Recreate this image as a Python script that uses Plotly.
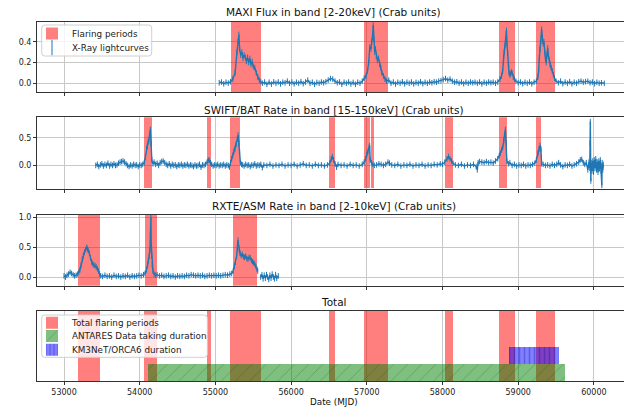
import plotly.graph_objects as go

# ---------------- data ----------------
maxi_mjd = [55050, 55080, 55110, 55140, 55170, 55200, 55230, 55260, 55285, 55300, 55310, 55320, 55335, 55350,
            55365, 55380, 55395, 55410, 55425, 55440, 55455, 55470, 55485, 55500, 55520, 55540, 55560, 55580,
            55600, 55620, 55650, 55680, 55710, 55740, 55770, 55800, 55830, 55860, 55890, 55920, 55950, 55980,
            56010, 56040, 56070, 56100, 56130, 56160, 56190, 56220, 56250, 56280, 56310, 56340, 56370, 56400,
            56430, 56460, 56490, 56520, 56550, 56580, 56610, 56640, 56670, 56700, 56730, 56760, 56790, 56820,
            56850, 56880, 56910, 56940, 56965, 56990, 57010, 57025, 57040, 57055, 57065, 57075, 57085, 57095,
            57105, 57115, 57125, 57140, 57155, 57170, 57185, 57200, 57220, 57240, 57260, 57290, 57320, 57350,
            57380, 57410, 57440, 57470, 57500, 57530, 57560, 57590, 57620, 57650, 57680, 57710, 57740, 57770,
            57800, 57830, 57860, 57890, 57920, 57950, 57980, 58010, 58040, 58070, 58100, 58130, 58160, 58190,
            58220, 58250, 58280, 58310, 58340, 58370, 58400, 58430, 58460, 58490, 58520, 58550, 58580, 58610,
            58640, 58670, 58700, 58730, 58760, 58780, 58795, 58805, 58815, 58825, 58835, 58845, 58852, 58860,
            58870, 58880, 58890, 58900, 58910, 58920, 58935, 58950, 58970, 59000, 59030, 59060, 59090, 59120,
            59150, 59180, 59210, 59240, 59260, 59270, 59280, 59290, 59300, 59310, 59320, 59330, 59340, 59350,
            59360, 59370, 59380, 59390, 59400, 59410, 59420, 59435, 59450, 59465, 59480, 59500, 59530, 59560,
            59590, 59620, 59650, 59680, 59710, 59740, 59770, 59800, 59830, 59860, 59890, 59920, 59950, 59980,
            60010, 60040, 60070, 60100, 60138]
maxi_flux = [0.005, 0.012, -0.005, 0.010, 0.002, 0.015, 0.04, 0.10, 0.30, 0.40, 0.47, 0.33, 0.27, 0.30,
             0.24, 0.27, 0.25, 0.21, 0.25, 0.20, 0.24, 0.18, 0.21, 0.16, 0.15, 0.10, 0.06, 0.03,
             0.015, 0.0, 0.012, -0.01, 0.01, -0.008, 0.014, 0.0, 0.012, -0.006, 0.01, 0.005, 0.02, 0.0,
             0.012, -0.005, 0.01, 0.0, 0.015, -0.004, 0.012, 0.03, 0.0, 0.01, -0.01, 0.008, 0.0, 0.012,
             0.005, 0.015, 0.03, 0.045, 0.04, 0.02, 0.005, 0.012, -0.01, 0.01, 0.0, 0.012, -0.006, 0.008,
             -0.01, 0.01, 0.0, 0.02, 0.05, 0.07, 0.12, 0.20, 0.35, 0.33, 0.40, 0.45, 0.56, 0.42,
             0.30, 0.33, 0.26, 0.22, 0.24, 0.18, 0.15, 0.10, 0.07, 0.04, 0.02, 0.03, 0.0, 0.012,
             -0.008, 0.01, 0.0, 0.014, -0.005, 0.01, 0.0, 0.012, -0.006, 0.008, 0.0, 0.015, -0.004, 0.01,
             0.0, 0.012, 0.005, 0.015, 0.01, 0.02, 0.025, 0.035, 0.045, 0.03, 0.04, 0.02, 0.01, 0.015,
             0.0, 0.012, -0.004, 0.01, 0.0, 0.012, 0.005, 0.01, 0.0, 0.012, -0.005, 0.01, 0.0, 0.012,
             0.005, 0.01, 0.0, 0.012, 0.04, 0.07, 0.12, 0.25, 0.30, 0.36, 0.42, 0.51, 0.38, 0.29,
             0.18, 0.10, 0.08, 0.09, 0.11, 0.10, 0.06, 0.04, 0.02, 0.005, 0.012, -0.004, 0.01, 0.0,
             0.012, -0.005, 0.01, 0.02, 0.06, 0.12, 0.25, 0.33, 0.40, 0.52, 0.44, 0.38, 0.40, 0.30,
             0.24, 0.20, 0.28, 0.34, 0.26, 0.22, 0.18, 0.15, 0.12, 0.08, 0.05, 0.02, 0.005, 0.02,
             -0.004, 0.012, 0.0, 0.015, -0.005, 0.01, 0.0, 0.015, 0.02, 0.01, 0.015, 0.02, 0.005, 0.012,
             -0.004, 0.01, 0.0, 0.005, 0.0]

swift_mjd = [53419, 53440, 53460, 53480, 53500, 53520, 53540, 53560, 53580, 53600, 53620, 53640, 53660, 53680,
             53700, 53720, 53740, 53760, 53780, 53800, 53820, 53840, 53860, 53880, 53900, 53920, 53940, 53960,
             53980, 54000, 54020, 54040, 54060, 54075, 54090, 54100, 54110, 54120, 54130, 54140, 54150, 54160,
             54175, 54190, 54210, 54230, 54250, 54270, 54290, 54310, 54330, 54350, 54370, 54390, 54410, 54430,
             54450, 54470, 54490, 54510, 54530, 54550, 54570, 54590, 54610, 54630, 54650, 54670, 54690, 54710,
             54730, 54750, 54770, 54790, 54810, 54830, 54850, 54870, 54890, 54905, 54920, 54935, 54950, 54970,
             54990, 55010, 55030, 55050, 55070, 55090, 55110, 55130, 55150, 55170, 55185, 55200, 55215, 55230,
             55245, 55260, 55275, 55290, 55300, 55310, 55320, 55330, 55345, 55360, 55380, 55400, 55420, 55440,
             55460, 55480, 55500, 55520, 55540, 55560, 55580, 55600, 55620, 55640, 55680, 55720, 55760, 55800,
             55840, 55880, 55920, 55960, 56000, 56040, 56080, 56120, 56160, 56200, 56240, 56280, 56320, 56360,
             56400, 56440, 56480, 56510, 56530, 56545, 56560, 56580, 56600, 56620, 56660, 56700, 56740, 56780,
             56820, 56860, 56900, 56940, 56965, 56985, 57000, 57015, 57030, 57038, 57045, 57060, 57080, 57100,
             57130, 57160, 57190, 57220, 57250, 57280, 57300, 57330, 57370, 57410, 57450, 57490, 57530, 57570,
             57610, 57650, 57690, 57730, 57770, 57810, 57850, 57890, 57930, 57970, 58000, 58030, 58060, 58080,
             58100, 58120, 58140, 58170, 58210, 58250, 58290, 58330, 58370, 58410, 58445, 58460, 58470, 58490,
             58520, 58550, 58580, 58610, 58640, 58670, 58700, 58730, 58750, 58765, 58780, 58795, 58810, 58820,
             58830, 58840, 58850, 58870, 58890, 58920, 58950, 58980, 59010, 59040, 59070, 59100, 59130, 59160,
             59190, 59220, 59240, 59260, 59275, 59290, 59300, 59310, 59330, 59360, 59390, 59420, 59450, 59480,
             59510, 59535, 59560, 59590, 59620, 59650, 59680, 59710, 59740, 59770, 59800, 59820, 59840, 59860,
             59880, 59900, 59920, 59935, 59945, 59950, 59953, 59956, 59960, 59965, 59975, 59985, 59995, 60005,
             60015, 60025, 60035, 60045, 60055, 60065, 60075, 60085, 60095, 60105, 60110, 60118, 60124]
swift_rate = [0.0, 0.02, -0.02, 0.01, 0.03, -0.01, 0.02, 0.0, 0.04, -0.01, 0.02, 0.0, 0.03, 0.0,
              0.01, 0.04, 0.06, 0.07, 0.08, 0.06, 0.03, 0.0, -0.02, 0.01, -0.01, 0.02, 0.0, 0.01,
              -0.02, 0.01, 0.0, 0.02, 0.05, 0.15, 0.30, 0.35, 0.42, 0.45, 0.55, 0.65, 0.40, 0.10,
              0.03, 0.06, 0.02, 0.04, 0.0, 0.05, 0.07, 0.08, 0.05, 0.02, 0.0, 0.03, -0.01, 0.02,
              0.0, 0.01, -0.02, 0.01, 0.0, 0.02, -0.01, 0.01, 0.0, 0.02, -0.01, 0.01, 0.0, -0.02,
              0.01, -0.01, 0.0, 0.02, -0.03, 0.01, 0.0, 0.02, 0.06, 0.10, 0.09, 0.05, 0.02, -0.01,
              0.01, 0.0, 0.02, -0.01, 0.01, 0.0, 0.02, -0.01, 0.01, 0.0, -0.03, 0.05, 0.12, 0.18,
              0.25, 0.30, 0.38, 0.48, 0.55, 0.40, 0.25, 0.05, 0.02, 0.01, -0.01, 0.02, 0.0, 0.01,
              -0.02, 0.01, 0.0, 0.03, -0.01, 0.01, 0.0, 0.02, -0.04, 0.01, 0.0, 0.02, -0.01, 0.01,
              0.0, 0.02, -0.01, 0.01, 0.0, 0.02, -0.01, 0.01, 0.03, 0.0, 0.01, -0.01, 0.02, 0.0,
              0.01, -0.01, 0.01, 0.04, 0.12, 0.16, 0.10, 0.03, -0.03, 0.02, 0.0, 0.01, -0.01, 0.02,
              0.0, 0.01, -0.01, 0.02, 0.06, 0.12, 0.20, 0.25, 0.33, 0.36, 0.10, 0.05, 0.02, 0.0,
              0.01, 0.03, 0.02, 0.0, 0.02, 0.06, 0.04, 0.01, 0.0, 0.02, -0.01, 0.01, 0.0, 0.02,
              -0.01, 0.01, 0.0, 0.02, -0.01, 0.01, 0.0, 0.02, 0.01, 0.03, 0.02, 0.06, 0.12, 0.16,
              0.12, 0.08, 0.04, 0.01, 0.0, 0.02, -0.01, 0.01, 0.0, 0.02, -0.02, -0.08, 0.05, 0.07,
              0.06, 0.05, 0.07, 0.05, 0.06, 0.04, 0.08, 0.12, 0.18, 0.22, 0.28, 0.32, 0.45, 0.55,
              0.65, 0.42, 0.08, 0.03, 0.05, 0.0, 0.02, -0.01, 0.01, 0.0, 0.02, -0.01, 0.01, 0.0,
              0.02, 0.04, 0.10, 0.22, 0.30, 0.36, 0.30, 0.03, 0.02, 0.0, 0.01, -0.01, 0.02, 0.0,
              0.02, 0.05, 0.01, -0.02, 0.01, 0.0, 0.02, -0.01, 0.01, 0.03, 0.06, 0.10, 0.11, 0.05,
              0.02, 0.05, -0.08, 0.06, -0.05, 0.40, 0.79, 0.30, -0.28, 0.05, -0.10, 0.08, -0.12, 0.10,
              -0.05, 0.12, -0.08, 0.06, -0.12, 0.08, -0.06, 0.10, -0.10, -0.36, 0.05, -0.08, 0.02]

rxte_mjd = [53000, 53020, 53040, 53060, 53080, 53100, 53120, 53140, 53160, 53180, 53195, 53210, 53225, 53240,
            53255, 53270, 53285, 53300, 53310, 53320, 53335, 53350, 53365, 53380, 53395, 53410, 53425, 53440,
            53455, 53470, 53485, 53510, 53540, 53570, 53600, 53630, 53660, 53690, 53720, 53750, 53780, 53810,
            53840, 53870, 53900, 53930, 53960, 53990, 54020, 54050, 54070, 54090, 54105, 54115, 54125, 54135,
            54142, 54148, 54152, 54158, 54165, 54175, 54190, 54210, 54230, 54260, 54290, 54320, 54350, 54380,
            54410, 54440, 54470, 54500, 54530, 54560, 54590, 54620, 54650, 54680, 54710, 54740, 54770, 54800,
            54830, 54860, 54890, 54920, 54950, 54980, 55010, 55040, 55070, 55100, 55130, 55160, 55190, 55215,
            55235, 55250, 55265, 55280, 55290, 55298, 55305, 55315, 55325, 55340, 55355, 55370, 55385, 55400,
            55415, 55430, 55445, 55460, 55475, 55490, 55505, 55520, 55535, 55550, 55559, None, 55598, 55615,
            55630, 55645, 55660, 55675, 55690, 55705, 55720, 55735, 55750, 55765, 55780, 55795, 55810, 55831]
rxte_rate = [0.02, 0.0, 0.03, 0.05, 0.08, 0.06, 0.04, 0.02, 0.03, 0.05, 0.08, 0.12, 0.20, 0.30,
             0.36, 0.42, 0.46, 0.50, 0.47, 0.45, 0.40, 0.32, 0.25, 0.22, 0.20, 0.19, 0.17, 0.14,
             0.10, 0.05, 0.02, 0.01, 0.03, 0.01, 0.02, 0.0, 0.03, 0.01, 0.02, 0.0, 0.02, 0.01,
             0.03, 0.0, 0.02, 0.01, 0.02, 0.03, 0.02, 0.04, 0.06, 0.12, 0.20, 0.28, 0.35, 0.45,
             0.70, 1.0, 0.55, 0.35, 0.20, 0.10, 0.05, 0.03, 0.04, 0.02, 0.03, 0.01, 0.02, 0.03,
             0.01, 0.02, 0.0, 0.02, 0.01, 0.02, 0.01, 0.03, 0.02, 0.04, 0.03, 0.02, 0.03, 0.02,
             0.03, 0.01, 0.02, 0.03, 0.02, 0.03, 0.02, 0.03, 0.02, 0.03, 0.04, 0.03, 0.05, 0.06,
             0.10, 0.18, 0.25, 0.35, 0.48, 0.62, 0.55, 0.45, 0.40, 0.36, 0.38, 0.34, 0.33, 0.35,
             0.31, 0.30, 0.33, 0.32, 0.28, 0.26, 0.24, 0.22, 0.18, 0.13, 0.10, None, 0.0, 0.04,
             -0.03, 0.03, -0.02, 0.04, 0.0, -0.04, 0.03, -0.02, 0.05, 0.0, -0.03, 0.04, -0.02, 0.02]

maxi_flares = [(55206, 55602), (56959, 57276), (58742, 58962), (59239, 59486)]
swift_flares = [(54057, 54162), (54885, 54942), (55197, 55325), (56505, 56584), (56959, 57038),
                (57055, 57099), (58037, 58143), (58750, 58847), (59239, 59305)]
rxte_flares = [(53189, 53475), (54070, 54228), (55236, 55549)]
total_flares = [(53189, 53475), (54057, 54228), (54885, 54942), (55197, 55602), (56505, 56584),
                (56959, 57276), (58037, 58143), (58742, 58962), (59239, 59486)]
antares_period = (54105, 59622)
orca6_period = (58874, 59539)

x_ticks = [53000, 54000, 55000, 56000, 57000, 58000, 59000, 60000]
titles = ["MAXI Flux in band [2-20keV] (Crab units)",
          "SWIFT/BAT Rate in band [15-150keV] (Crab units)",
          "RXTE/ASM Rate in band [2-10keV] (Crab units)",
          "Total"]

# ---------------- layout constants ----------------
FONT = "DejaVu Sans"
XR = [52643, 60398]
Y1R = [-0.087, 0.59]
Y2R = [-0.42, 0.87]
Y3R = [-0.145, 1.04]
Y4R = [0, 4.1]
RED = "rgba(255,0,0,0.5)"
BLUE = "#1f77b4"

L, R, T, B = 37, 0, 22, 27
W, H = 624, 408
PW = W - L - R
PH = H - T - B


def yfrac(py):
    return (H - B - py) / PH


def xfrac(px):
    return (px - L) / PW


fig = go.Figure()


def add_flares(flares, xa, ya, yr, name, showlegend, legend):
    fig.add_trace(go.Bar(
        x=[(a + b) / 2 for a, b in flares],
        y=[yr[1] - yr[0]] * len(flares),
        base=[yr[0]] * len(flares),
        width=[b - a for a, b in flares],
        marker=dict(color=RED, line=dict(width=0)),
        xaxis=xa, yaxis=ya, name=name, showlegend=showlegend, legend=legend,
    ))


def add_curve(xs, ys, xa, ya):
    fig.add_trace(go.Scatter(
        x=xs, y=ys, mode="lines+markers",
        line=dict(color=BLUE, width=1.4),
        marker=dict(symbol="line-ns-open", size=4, color=BLUE, line=dict(color=BLUE, width=1)),
        xaxis=xa, yaxis=ya, showlegend=False, connectgaps=False,
    ))


add_flares(maxi_flares, "x", "y", Y1R, "Flaring periods", True, "legend")
add_flares(swift_flares, "x2", "y2", Y2R, "Flaring periods", False, "legend")
add_flares(rxte_flares, "x3", "y3", Y3R, "Flaring periods", False, "legend")
add_flares(total_flares, "x4", "y4", Y4R, "Total flaring periods", True, "legend3")

fig.add_trace(go.Bar(
    y=[0.5], x=[antares_period[1] - antares_period[0]], base=[antares_period[0]], width=[1],
    orientation="h", xaxis="x4", yaxis="y4", name="ANTARES Data taking duration", legend="legend4",
    marker=dict(color="rgba(0,128,0,0.5)", line=dict(width=0),
                pattern=dict(shape="/", fgcolor="rgba(0,70,0,0.55)", size=10, solidity=0.08, fillmode="overlay")),
))
fig.add_trace(go.Bar(
    y=[1.5], x=[orca6_period[1] - orca6_period[0]], base=[orca6_period[0]], width=[1],
    orientation="h", xaxis="x4", yaxis="y4", name="KM3NeT/ORCA6 duration", legend="legend5",
    marker=dict(color="rgba(0,0,255,0.5)", line=dict(width=0),
                pattern=dict(shape="|", fgcolor="rgba(0,0,170,0.55)", size=5, solidity=0.3, fillmode="overlay")),
))

add_curve(maxi_mjd, maxi_flux, "x", "y")
add_curve(swift_mjd, swift_rate, "x2", "y2")
add_curve(rxte_mjd, rxte_rate, "x3", "y3")

# legend proxy for the light curves (error-bar like symbol)
fig.add_trace(go.Scatter(
    x=[None], y=[None], mode="markers", name="X-Ray lightcurves", legend="legend2",
    marker=dict(symbol="line-ns-open", size=11, color=BLUE, line=dict(color=BLUE, width=1)),
    xaxis="x", yaxis="y",
))

# ---------------- axes ----------------
domains = [(yfrac(92.3), 1.0), (yfrac(188.7), yfrac(117.3)), (yfrac(285.7), yfrac(215)), (0.0, yfrac(310.7))]
yranges = [Y1R, Y2R, Y3R, Y4R]
yticks = [[0.0, 0.2, 0.4], [0.0, 0.5], [0.0, 0.5, 1.0], []]

axis_common = dict(showline=True, linecolor="#333333", linewidth=1, ticks="outside", ticklen=3,
                   tickcolor="#333333", tickwidth=1, zeroline=False,
                   tickfont=dict(family=FONT, size=8, color="#222222"))


def legend_at(item_center_py):
    return dict(x=xfrac(32), y=yfrac(item_center_py - 14), xanchor="left", yanchor="top",
                bgcolor="rgba(0,0,0,0)", borderwidth=0, font=dict(family=FONT, size=8.8, color="#222222"))


layout = dict(
    width=W, height=H, margin=dict(l=L, r=R, t=T, b=B),
    paper_bgcolor="white", plot_bgcolor="white", barmode="overlay", bargap=0,
    font=dict(family=FONT, size=9, color="#222222"),
    legend=legend_at(33), legend2=legend_at(47),
    legend3=legend_at(322.3), legend4=legend_at(335.5), legend5=legend_at(349.3),
)

for i in range(4):
    sfx = "" if i == 0 else str(i + 1)
    layout["xaxis" + sfx] = dict(
        axis_common, domain=[0, 1], range=XR, anchor="y" + sfx, mirror=True,
        tickvals=x_ticks, tickformat="d", showticklabels=(i == 3),
        showgrid=True, gridcolor="#c8c8c8", gridwidth=1,
    )
    layout["yaxis" + sfx] = dict(
        axis_common, domain=list(domains[i]), range=yranges[i], anchor="x" + sfx, mirror=False,
        tickvals=yticks[i], tickformat=".1f", showgrid=(i < 3), gridcolor="#c8c8c8", gridwidth=1,
        showticklabels=(i < 3), ticks=("outside" if i < 3 else ""),
    )

fig.update_layout(**layout)


def rounded_box(x0, y0, x1, y1, r=3):
    # box given in pixels (top-left origin), converted to paper coordinates
    X0, X1 = xfrac(x0), xfrac(x1)
    Yt, Yb = yfrac(y0), yfrac(y1)
    rx, ry = r / PW, r / PH
    return (f"M{X0 + rx},{Yt} L{X1 - rx},{Yt} Q{X1},{Yt} {X1},{Yt - ry} "
            f"L{X1},{Yb + ry} Q{X1},{Yb} {X1 - rx},{Yb} L{X0 + rx},{Yb} Q{X0},{Yb} {X0},{Yb + ry} "
            f"L{X0},{Yt - ry} Q{X0},{Yt} {X0 + rx},{Yt} Z")


# legend frames (white, semi-transparent boxes behind the legend entries)
for box in [(41.7, 25, 151.7, 56), (41.7, 315, 207.3, 357.3)]:
    fig.add_shape(type="path", xref="paper", yref="paper", path=rounded_box(*box),
                  line=dict(color="#d0d0d0", width=1), fillcolor="rgba(255,255,255,0.8)", layer="above")

title_py = [12, 110, 205.7, 301.7]
xc = xfrac(334)
for t, py in zip(titles, title_py):
    fig.add_annotation(text=t, xref="paper", yref="paper", x=xc, y=yfrac(py), xanchor="center",
                       yanchor="middle", showarrow=False, font=dict(family=FONT, size=10.5, color="#111111"))
fig.add_annotation(text="Date (MJD)", xref="paper", yref="paper", x=xc, y=yfrac(402), xanchor="center",
                   yanchor="middle", showarrow=False, font=dict(family=FONT, size=8.8, color="#111111"))

fig.write_html("out.html", config={"displayModeBar": False},
               post_script="document.body.style.margin='0px';")
